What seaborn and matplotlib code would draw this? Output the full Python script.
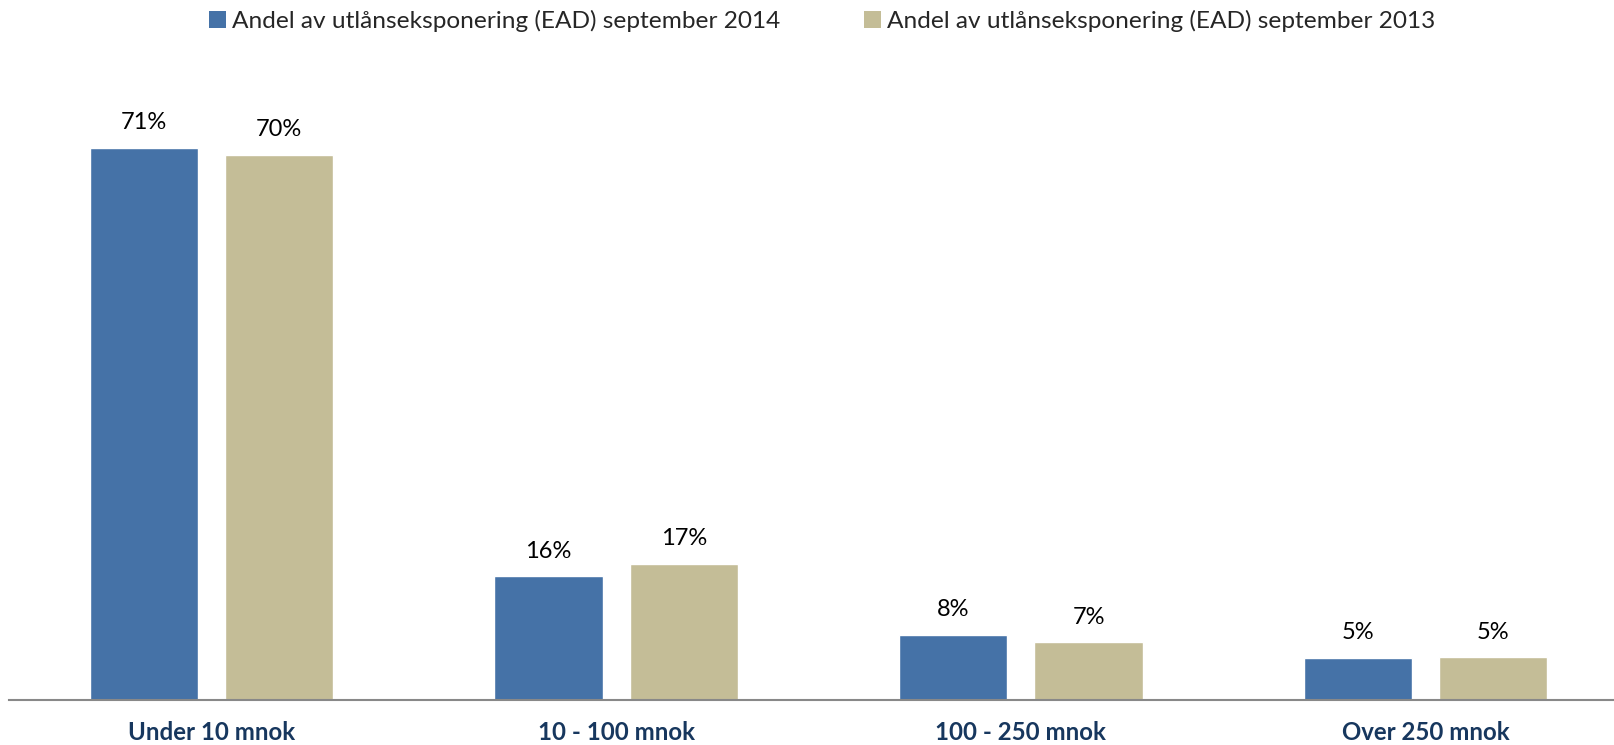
import matplotlib
matplotlib.use("Agg")
import matplotlib.pyplot as plt
import seaborn as sns
import pandas as pd
from matplotlib.patches import Patch

# data
categories = ["Under 10 mnok", "10 - 100 mnok", "100 - 250 mnok", "Over 250 mnok"]
series_names = ["Andel av utlånseksponering (EAD) september 2014",
                "Andel av utlånseksponering (EAD) september 2013"]
share_2014 = [70.6, 15.8, 8.3, 5.4]
share_2013 = [69.7, 17.4, 7.4, 5.45]
colors = ["#4572A7", "#C4BD97"]

rows = []
for cat, v14, v13 in zip(categories, share_2014, share_2013):
    rows.append({"Kategori": cat, "Serie": series_names[0], "Andel": v14})
    rows.append({"Kategori": cat, "Serie": series_names[1], "Andel": v13})
df = pd.DataFrame(rows)

sns.set_style("white")
plt.rcParams["font.family"] = ["Lato", "DejaVu Sans"]

fig = plt.figure(figsize=(16.15, 7.45), dpi=100)
W, H = 1615, 745
ax = fig.add_axes([9.15 / W, 45 / H, 1 - 9.15 / W, 625.8 / H])

sns.barplot(data=df, x="Kategori", y="Andel", hue="Serie", order=categories,
            hue_order=series_names, palette=colors, width=0.669, gap=0.2,
            saturation=1, legend=False, ax=ax)

for cont in ax.containers:
    ax.bar_label(cont, fmt="{:.0f}%", padding=10.5, fontsize=17, color="black")

ax.set_xlim(-0.5, 3.468)
ax.set_ylim(0, 80)
ax.set_xlabel("")
ax.set_ylabel("")
ax.set_yticks([])
for side in ["left", "right", "top"]:
    ax.spines[side].set_visible(False)
ax.spines["bottom"].set_color("#888888")
ax.spines["bottom"].set_linewidth(1.5)
ax.tick_params(axis="x", length=0, pad=15)
for lab in ax.get_xticklabels():
    lab.set_fontsize(17.3)
    lab.set_fontweight("bold")
    lab.set_color("#17375E")

handles = [Patch(facecolor=c, edgecolor="none") for c in colors]
fig.legend(handles, series_names, loc="center", bbox_to_anchor=(822 / W, 1 - 21 / H),
           ncol=2, frameon=False, fontsize=17.6, handlelength=0.7, handleheight=0.7,
           handletextpad=0.25, columnspacing=3.4)

fig.savefig("out.png", dpi=100)
